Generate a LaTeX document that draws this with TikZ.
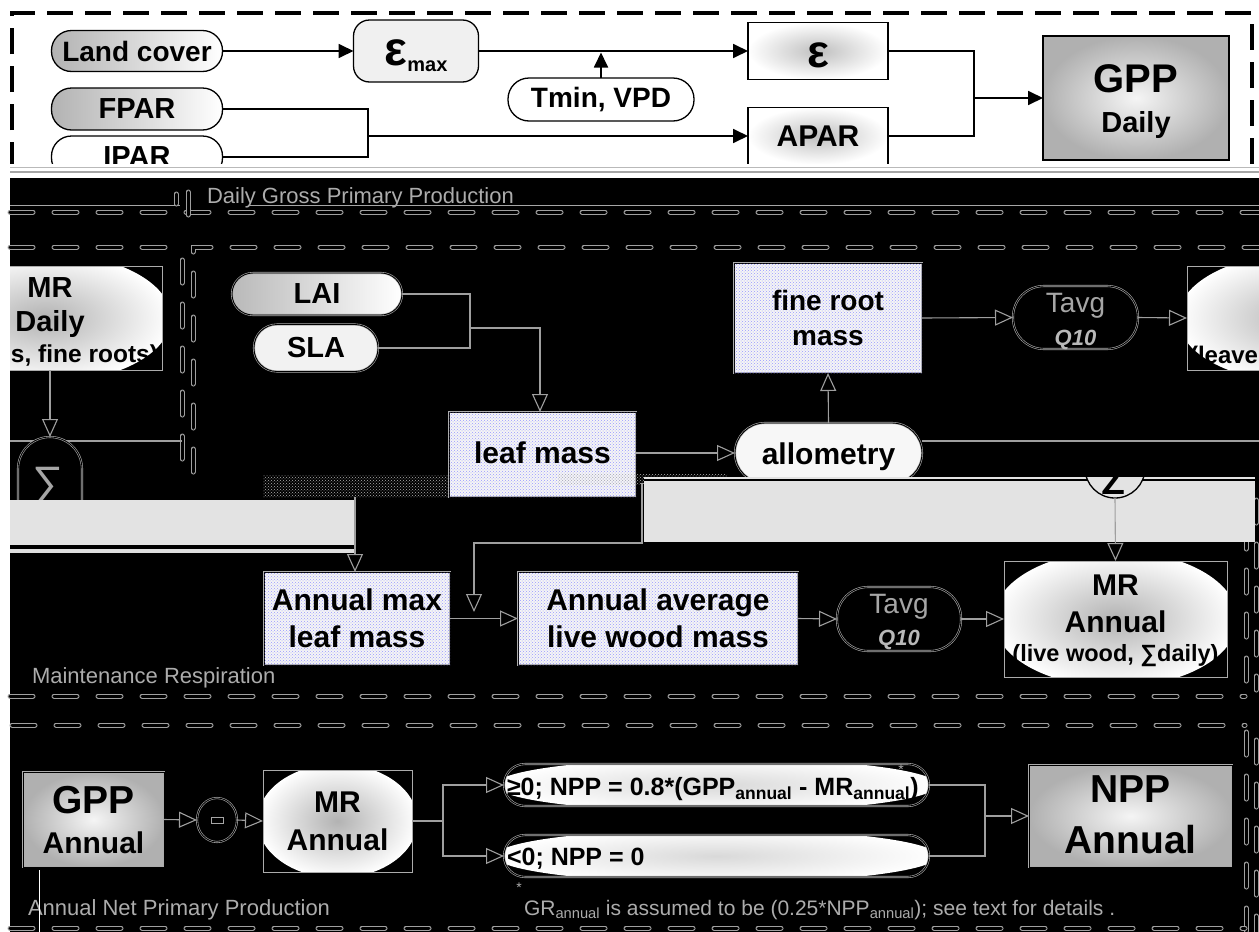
\documentclass[tikz,border=0pt]{standalone}
\usepackage{fontspec}
\setmainfont{Liberation Sans}
\usetikzlibrary{arrows.meta,patterns,shapes.geometric}
\newcommand\fsz[2]{\fontsize{#1}{#2}\selectfont}
\begin{document}
\begin{tikzpicture}[x=1pt,y=-1pt,
  every node/.style={inner sep=0pt,outer sep=0pt},
  tb/.style={draw=black,line width=1.3pt},
  tarr/.style={line width=1.8pt,-{Triangle[length=15pt,width=14pt]}},
  tln/.style={line width=1.8pt},
  ln/.style={draw=gray!75,line width=1.1pt},
  oarr/.style={ln,-{Triangle[open,length=18pt,width=16pt,fill=black]}},
  gb/.style={draw=gray!65,line width=0.6pt,double=black,double distance=0.9pt},
  dotbox/.style={fill=gray!8,postaction={pattern=crosshatch dots,pattern color=blue!40}},
  odash/.style={line width=5pt,draw=gray!75,line cap=round,dash pattern=on 23pt off 21pt,
     postaction={draw=black,line width=3pt,line cap=round,dash pattern=on 23pt off 21pt}},
  tdash/.style={line width=4pt,draw=black,dash pattern=on 26pt off 12pt},
  lbl/.style={text=gray!65,font=\fsz{22}{25}},
  mrbx/.style={draw=gray!65,line width=0.8pt,fill=black},
  mrell/.style 2 args={path picture={\shade[inner color=gray!60,outer color=white]
     (path picture bounding box.center) ellipse[x radius=#1,y radius=#2];}},
]
\useasboundingbox (0,0) rectangle (1259,932);
\fill[white] (0,0) rectangle (1259,932);

% ---------- top panel ----------
\draw[tdash] (12,168) -- (12,13) -- (1252,13) -- (1252,168);
\node[tb,rounded corners=20pt,minimum width=171pt,minimum height=41pt,left color=gray!60,right color=white,font=\bfseries\fsz{28}{30}] (lc) at (137,51) {Land cover};
\node[tb,rounded corners=20pt,minimum width=171pt,minimum height=42pt,left color=gray!60,right color=white,font=\bfseries\fsz{29}{30}] (fpar) at (137,109) {FPAR};
\node[tb,rounded corners=20pt,minimum width=171pt,minimum height=42pt,fill=white,font=\bfseries\fsz{29}{30}] (ipar) at (137,157) {IPAR};
\node[tb,rounded corners=16pt,minimum width=125pt,minimum height=62pt,fill=gray!12] (emax) at (416,51) {};
\node[anchor=base,font=\bfseries] (emaxt) at (416,65) {\fsz{48}{48}ε\raisebox{-6pt}{\fsz{20}{20}max}};
\node[tb,rounded corners=21pt,minimum width=186pt,minimum height=43pt,fill=white,font=\bfseries\fsz{28}{30}] (tv) at (601,99.5) {Tmin, VPD};
\node[tb,minimum width=140pt,minimum height=57pt,inner color=gray!50,outer color=white] (eps) at (818,51) {};
\node[anchor=base,font=\bfseries\fsz{46}{46}] (epst) at (818,67) {ε};
\node[tb,minimum width=140pt,minimum height=57pt,inner color=gray!50,outer color=white,font=\bfseries\fsz{30}{30}] (apar) at (818,136) {APAR};
\node[tb,minimum width=186pt,minimum height=124pt,inner color=gray!8,outer color=gray!62] (gppd) at (1136,98) {};
\node[anchor=base,font=\bfseries\fsz{40}{40}] (gppdt1) at (1136,92) {GPP};
\node[anchor=base,font=\bfseries\fsz{29}{30}] (gppdt2) at (1136,132) {Daily};

\draw[tarr] (lc.east) -- (emax.west);
\draw[tarr] (emax.east) -- (eps.west);
\coordinate (j1) at (601,52.5);
\draw[tarr] (tv.north) -- (j1);
\coordinate (jp) at (368,136);
\draw[tln] (fpar.east) -| (jp) |- (ipar.east);
\draw[tarr] (jp) -- (apar.west);
\coordinate (jg) at (974,98);
\draw[tln] (eps.east) -| (jg) |- (apar.east);
\draw[tarr] (jg) -- (gppd.west);

% ---------- transition / dark area ----------
\fill[white] (10,164) rectangle (1259,178);
\draw[gray!55,line width=1pt] (10,167) -- (1259,167);
\draw[gray!70,line width=1.5pt] (10,172) -- (1259,172);
\fill[black] (10,178) rectangle (1259,932);

\node[lbl,anchor=base west] (dgpp) at (207,203) {Daily Gross Primary Production};
\draw[gray!70,line width=0.7pt] (10,205) -- (180,205) (249,205) -- (1259,205);
\draw[odash] (10,212) -- (1259,212);
\draw[odash] (176,194) -- (176,204);
\draw[odash] (188,192) -- (188,216);

% ---------- middle panel ----------
\draw[odash] (10,247) -- (176,247);
\draw[odash] (193,472) -- (193,247) -- (1259,247);
\draw[odash] (182,260) -- (182,466);
\draw[odash] (1246,482) -- (1246,690);
\draw[odash] (1256,500) -- (1256,690);
\draw[odash] (10,696) -- (1245,696);

\begin{scope}
\clip (10,178) rectangle (1259,932);
\node[mrbx,mrell={126pt}{65pt},minimum width=234pt,minimum height=104pt] (mrdR) at (1304,318) {};
\node[anchor=base west,font=\bfseries\fsz{24}{26}] (mrdRt3) at (1190,363) {(leave};
\node[mrbx,mrell={126pt}{65pt},minimum width=234pt,minimum height=104pt] (mrdL) at (45,318) {};
\end{scope}
\node[anchor=base,font=\bfseries\fsz{29}{30}] (mrdLt1) at (50,297) {MR};
\node[anchor=base,font=\bfseries\fsz{29}{30}] (mrdLt2) at (50,331) {Daily};
\node[anchor=base east,font=\bfseries\fsz{24.5}{26}] (mrdLt3) at (158,362) {s, fine roots)};

\node[gb,rounded corners=21pt,minimum width=170pt,minimum height=42pt,left color=gray!55,right color=white,font=\bfseries\fsz{29}{30}] (lai) at (317,294) {LAI};
\node[gb,rounded corners=23pt,minimum width=124pt,minimum height=47pt,fill=gray!10,font=\bfseries\fsz{29}{30}] (sla) at (316,348) {SLA};
\coordinate (jl) at (470,328);
\draw[ln] (lai.east) -| (jl) |- (sla.east);

\node[gb,dotbox,minimum width=187pt,minimum height=85pt] (leaf) at (542.5,454.5) {};
\node[anchor=base,font=\bfseries\fsz{30}{30}] (leaft) at (542.5,463) {leaf mass};
\draw[oarr] (jl) -| ([xshift=-2.5pt]leaf.north);
\fill[black] (263,475) rectangle (448,497);
\fill[pattern=crosshatch dots,pattern color=gray!60] (263,475) rectangle (448,497);

\node[gb,rounded corners=30pt,minimum width=187pt,minimum height=60pt,fill=gray!6] (allo) at (828.5,453) {};
\node[anchor=base,font=\bfseries\fsz{30}{30}] (allot) at (828.5,464) {allometry};
\draw[oarr] (leaf.east |- allo.west) -- (allo.west);

\node[gb,dotbox,minimum width=188pt,minimum height=110pt,align=center,font=\bfseries\fsz{28}{35}] (fr) at (828,318) {fine root\\mass};
\draw[oarr] (allo.north) -- (fr.south);

\node[gb,rounded corners=31pt,minimum width=125pt,minimum height=63pt,fill=black] (tq1) at (1075.5,317.5) {};
\node[anchor=base,text=gray!70,font=\fsz{28}{28}] (tq1a) at (1075.5,312) {Tavg};
\node[anchor=base,text=gray!55,font=\bfseries\itshape\fsz{22}{22}] (tq1b) at (1075.5,345) {Q10};
\draw[oarr] (fr.east) -- (tq1.west);
\draw[oarr] (tq1.east) -- (mrdR.west);

\coordinate (aR) at (1259,441);
\draw[ln] ([yshift=12pt]allo.east) -- (aR);
\draw[ln] (10,441) -- (182,441);

% left sigma
\coordinate (sgLt) at (50,437);
\draw[gb,fill=black,rounded corners=32pt] (18,540) -- (18,437) -- (82,437) -- (82,540);
\node[anchor=base,text=gray!70,font=\fsz{44}{44}] (sgLtx) at (48,497) {∑};
\draw[oarr] ([xshift=5pt]mrdL.south) -- (sgLt);
\fill[pattern=crosshatch dots,pattern color=gray!60] (558,474) rectangle (727,484);

% bands
\fill[gray!22] (644,477) rectangle (1255,542);
\draw[black,line width=1.5pt] (644,480) -- (1255,480);
\fill[gray!22] (10,500) rectangle (355,546);
\draw[black,line width=1.5pt] (10,546) -- (355,546);
\fill[gray!25] (10,549) rectangle (355,553);

\begin{scope}
\clip (644,477) rectangle (1255,542);
\draw[black,line width=1.3pt,fill=gray!22] (1115,468) circle[radius=30pt];
\node[anchor=base,font=\bfseries\fsz{36}{36}] (sgRt) at (1113,486) {∑};
\end{scope}

\node[gb,dotbox,minimum width=186pt,minimum height=93pt,align=center,font=\bfseries\fsz{30}{37}] (amax) at (357,618.5) {Annual max\\leaf mass};
\node[gb,dotbox,minimum width=280pt,minimum height=93pt,align=center,font=\bfseries\fsz{30}{37}] (aavg) at (658,618.5) {Annual average\\live wood mass};
\coordinate (lm1) at (355,497);
\draw[oarr] (lm1) -- (lm1 |- amax.north);
\coordinate (ls) at (642,483);
\coordinate (ja) at (474,612);
\draw[oarr] (ls) -- ++(0,60) -| (ja);
\draw[oarr] (amax.east) -- (aavg.west);

\node[gb,rounded corners=31pt,minimum width=124pt,minimum height=64pt,fill=black] (tq2) at (899,619) {};
\node[anchor=base,text=gray!70,font=\fsz{28}{28}] (tq2a) at (899,613) {Tavg};
\node[anchor=base,text=gray!55,font=\bfseries\itshape\fsz{22}{22}] (tq2b) at (899,645) {Q10};
\draw[oarr] (aavg.east) -- (tq2.west);

\node[mrbx,mrell={122pt}{68pt},minimum width=223pt,minimum height=116pt] (mra) at (1115.5,619) {};
\node[anchor=base,font=\bfseries\fsz{30}{30}] (mrat1) at (1115.5,595) {MR};
\node[anchor=base,font=\bfseries\fsz{30}{30}] (mrat2) at (1115.5,632) {Annual};
\node[anchor=base,font=\bfseries\fsz{23.5}{24}] (mrat3) at (1115.5,661) {(live wood, ∑daily)};
\draw[oarr] (tq2.east) -- (mra.west);
\coordinate (sgRb) at (1115,498);
\draw[oarr] (sgRb) -- (mra.north);

\node[lbl,anchor=base west] (mrl) at (32,683) {Maintenance Respiration};

% ---------- bottom panel ----------
\draw[odash] (12,725) -- (1245,725);
\draw[odash] (1246,732) -- (1246,932);
\draw[odash] (1256,740) -- (1256,932);
\draw[odash] (10,928) -- (1245,928);

\node[gb,minimum width=141pt,minimum height=95pt,inner color=gray!8,outer color=gray!62] (gppa) at (93.5,819.5) {};
\node[anchor=base,font=\bfseries\fsz{39}{40}] (gppat1) at (93.5,813) {GPP};
\node[anchor=base,font=\bfseries\fsz{30}{30}] (gppat2) at (93.5,853) {Annual};

\node[gb,ellipse,minimum width=40pt,minimum height=44pt,fill=black] (mn) at (217,820) {};
\draw[gray!70,line width=0.8pt] (211.5,817.5) rectangle (223,823.5);

\node[mrbx,mrell={80pt}{57pt},minimum width=149pt,minimum height=102pt] (mrb) at (337.5,821) {};
\node[anchor=base,font=\bfseries\fsz{30}{30}] (mrbt1) at (337.5,812) {MR};
\node[anchor=base,font=\bfseries\fsz{30}{30}] (mrbt2) at (337.5,850) {Annual};

\draw[oarr] (gppa.east) -- (mn.west);
\draw[oarr] (mn.east) -- (mrb.west);

\node[gb,rounded corners=21pt,minimum width=425pt,minimum height=42pt,fill=black,
  path picture={\shade[inner color=gray!30,outer color=white] (path picture bounding box.center) ellipse[x radius=221pt,y radius=27pt];}] (p1) at (716.5,785) {};
\node[gb,rounded corners=21pt,minimum width=425pt,minimum height=42pt,fill=black,
  path picture={\shade[inner color=gray!30,outer color=white] (path picture bounding box.center) ellipse[x radius=221pt,y radius=27pt];}] (p2) at (716.5,856) {};
\node[anchor=base west,font=\bfseries\fsz{25}{26}] (p1t) at (507,795) {≥0; NPP = 0.8*(GPP\textsubscript{annual} - MR\textsubscript{annual})};
\node[anchor=base west,font=\bfseries\fsz{25}{26}] (p2t) at (507,865) {<0; NPP = 0};

\coordinate (jb) at (443,821);
\draw[ln] (mrb.east) -- (jb);
\draw[oarr] (jb) |- (p1.west);
\draw[oarr] (jb) |- (p2.west);

\node[gb,minimum width=203pt,minimum height=102pt,inner color=gray!8,outer color=gray!62] (npp) at (1130.5,816) {};
\node[anchor=base,font=\bfseries\fsz{39}{40}] (nppt1) at (1130.5,802) {NPP};
\node[anchor=base,font=\bfseries\fsz{39}{40}] (nppt2) at (1130.5,853) {Annual};

\coordinate (jn) at (985,816);
\draw[ln] (p1.east) -| (jn);
\draw[ln] (p2.east) -| (jn);
\draw[oarr] (jn) -- (npp.west);

\node[text=gray!65,font=\fsz{14}{14}] (ast1) at (519,888) {*};
\node[text=gray!65,font=\fsz{14}{14}] (ast2) at (901,770) {*};
\node[lbl,anchor=base west] (anpp) at (28,915) {Annual Net Primary Production};
\node[lbl,anchor=base west,font=\fsz{21}{24}] (grt) at (524,915) {GR\textsubscript{annual} is assumed to be (0.25*NPP\textsubscript{annual}); see text for details .};
\draw[white,line width=0.8pt] (39,870) -- (39,932);
\end{tikzpicture}
\end{document}
